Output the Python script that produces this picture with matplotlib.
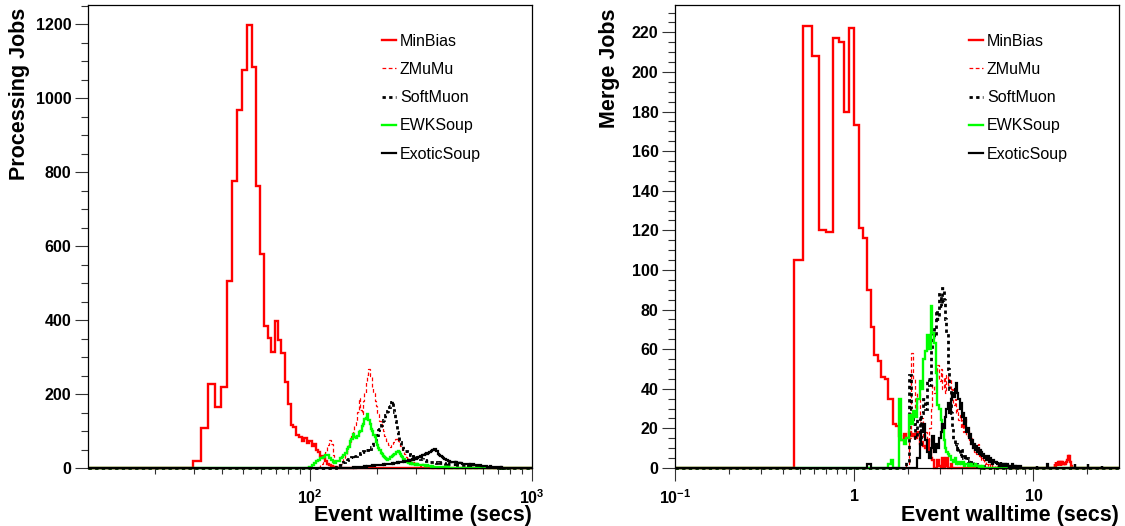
import numpy as np
import matplotlib
matplotlib.use("Agg")
import matplotlib.pyplot as plt
from matplotlib.ticker import FixedLocator, FixedFormatter, MultipleLocator, NullFormatter

plt.rcParams['font.family'] = ['Liberation Sans', 'DejaVu Sans']
plt.rcParams['mathtext.fontset'] = 'custom'
plt.rcParams['mathtext.rm'] = 'Liberation Sans:bold'
plt.rcParams['mathtext.bf'] = 'Liberation Sans:bold'

# histogram binning (ROOT TH1F style)
proc_edges = np.linspace(10, 1000, 401)
merge_edges = np.linspace(0.1, 30, 501)

samples = ['MinBias', 'ZMuMu', 'SoftMuon', 'EWKSoup', 'ExoticSoup']

# ---- processing jobs (first bin index, counts) ----
proc_minbias_start = 8
proc_minbias = [18, 109, 227, 165, 218, 507, 775, 968, 1075, 1198, 1084, 763, 578, 383, 351, 315,
                398, 345, 310, 233, 174, 115, 112, 88, 85, 72, 80, 68, 72, 60, 65, 50, 44, 32, 26,
                18, 12, 8, 5, 3, 2, 1, 1, 0, 1, 0, 0, 1, 0, 1, 0, 0, 1, 0, 1, 1, 0, 1, 0, 0, 1]

proc_zmumu_start = 40
proc_zmumu = [3, 10, 22, 42, 62, 76, 66, 35, 6, 5, 9, 12, 19, 24, 36, 47, 62, 69, 87, 98, 117, 128,
              152, 189, 158, 146, 180, 203, 235, 252, 268, 250, 248, 220, 202, 181, 168, 148, 147,
              128, 123, 108, 100, 86, 84, 73, 70, 62, 61, 56, 62, 63, 69, 70, 78, 79, 82, 73, 70,
              60, 59, 50, 47, 39, 37, 31, 31, 26, 26, 22, 22, 18, 19, 16, 16, 13, 14, 11, 12, 9,
              10, 7, 8, 6, 7, 5, 5, 4, 5, 3, 3, 4, 2, 2, 3, 1, 2, 1, 1, 1]

proc_softmuon_start = 49
proc_softmuon = [4, 9, 8, 14, 15, 20, 21, 25, 24, 29, 28, 33, 32, 37, 38, 41, 40, 45, 44, 49,
                 48, 53, 52, 58, 61, 69, 74, 84, 89, 102, 106, 116, 120, 130, 132, 142, 144, 154,
                 156, 166, 168, 178, 182, 163, 152, 128, 117, 98, 88, 74, 70, 60, 60, 52, 52, 45,
                 45, 41, 41, 38, 38, 35, 36, 33, 34, 31, 32, 29, 30, 27, 28, 26,
                 26, 25, 25, 24, 23, 23, 22, 21, 21, 20, 20, 19, 19, 18, 18, 17, 17, 16, 17, 16,
                 16, 15, 16, 15, 15, 14, 15, 14, 14, 15, 14, 13, 14, 13, 14, 13, 13, 14, 13, 12,
                 13, 13, 12, 13, 12, 11, 12, 11, 12, 11, 10, 11, 10, 11, 10, 10, 9, 10, 9, 10,
                 9, 9, 8, 9, 9, 8, 9, 8, 8, 9, 8, 8, 7, 8, 8, 7, 8, 7, 7, 8, 7, 6, 7, 7, 6, 7,
                 6, 6, 7, 6, 6, 5, 6, 6, 5, 6, 5, 6, 5, 5, 6, 5, 5, 4, 5, 5, 4, 5, 5, 4, 5, 4,
                 4, 5, 4, 4, 5, 4, 4, 3, 4, 4, 3, 4, 4, 3, 4, 3, 3, 4, 3, 3, 4, 3, 3, 3, 2, 3,
                 3, 3, 2, 3, 3, 2, 3, 3, 2, 3, 2, 3, 2, 2, 3, 2, 2, 3, 2, 2, 2, 2, 1, 2, 2, 1,
                 2, 1, 2, 2, 1, 1, 2, 1, 1, 2, 1, 1, 1, 1, 2, 1, 1, 1, 0, 1, 1, 1, 0, 1, 1, 0, 1]

proc_ewksoup_start = 36
proc_ewksoup = [2, 8, 13, 19, 22, 28, 29, 34, 35, 27, 21, 16, 14, 18, 20, 27, 29, 36, 41, 52, 58,
                72, 78, 91, 83, 80, 87, 97, 101, 114, 120, 132, 136, 146, 130, 120, 106, 101, 88,
                83, 70, 63, 54, 49, 41, 39, 33, 31, 26, 25, 21, 25, 25, 29, 29, 33, 34, 39, 39,
                42, 42, 46, 43, 39, 32, 30, 25, 24, 20, 20, 16, 17, 14, 15, 12, 14, 11, 13, 10,
                12, 9, 11, 8, 10, 8, 9, 7, 9, 7, 8, 6, 8, 7, 6, 7, 5, 7, 6, 5, 6, 5, 6, 4, 5, 5,
                4, 4, 5, 3, 4, 4, 3, 3, 4, 2, 3, 3, 2, 3, 2, 2, 2, 1, 2, 2, 1, 2, 1, 1, 2, 1, 1,
                1, 1, 0, 1, 1, 1, 0, 1]

proc_exoticsoup_start = 56
proc_exoticsoup = [1, 0, 1, 2, 1, 2, 3, 2, 3, 4, 3, 5, 4, 5, 6, 5, 6, 7, 6, 8, 7, 7, 8, 9,
                   8, 9, 10, 9, 10, 11, 10, 11, 12, 11, 12, 13, 12, 14, 13, 14,
                   15, 14, 16, 15, 17, 16, 18, 17, 19, 18, 20, 19, 21, 20, 22, 21, 23, 22, 21,
                   24, 26, 25, 28, 27, 30, 29, 31, 33, 31, 34, 33, 36, 35, 38, 37, 40, 39, 42,
                   41, 44, 43, 46, 45, 48, 47, 50, 52, 53, 51, 50, 46, 45, 40, 39, 36, 35,
                   33, 33, 29, 30, 27, 28, 25, 26, 23, 24, 22,
                   21, 22, 19, 21, 18, 20, 17, 19, 16, 18, 16, 17, 15, 16, 14, 16, 14, 15, 14,
                   14, 13, 14, 12, 14, 12, 13, 11, 13, 12, 11, 13, 11, 12, 10, 12, 11, 10, 12, 10,
                   11, 11, 10, 11, 10, 11, 9, 11, 10, 9, 10, 9, 10, 8, 10, 9, 8, 9, 8, 9, 8, 8, 7,
                   9, 8, 7, 8, 7, 8, 7, 7, 6, 7, 6, 7, 6, 7, 5, 6, 6, 5, 6, 5, 6, 5, 6, 5, 5, 4,
                   6, 5, 4, 5, 4, 5, 4, 5, 4, 4, 4, 3, 4, 4, 3, 4, 3, 4, 3, 3, 4, 3, 3, 2, 3, 3,
                   2, 3, 3, 2, 3, 2, 2, 3, 2, 2, 2, 1, 2, 2, 1, 2, 1, 2, 1, 1, 2, 1, 1, 1]

# ---- merge jobs (first bin index, counts) ----
merge_minbias_start = 6
merge_minbias = [105, 223, 208, 120, 119, 217, 215, 180, 222, 173, 121, 116, 90, 71, 57, 54, 46,
                 45, 35, 35, 22, 21, 16, 14, 17, 15, 18, 16, 17, 15, 18, 12, 13, 11, 10, 14, 9,
                 5, 4, 0, 0, 4, 1, 0, 5, 0, 1, 5, 0, 0, 2]
merge_minbias_tail_start = 219
merge_minbias_tail = [2, 1, 3, 2, 2, 3, 2, 1, 2, 3, 2, 2, 3, 2, 3, 2, 1, 2, 2, 3, 2, 2, 3, 3, 2,
                      2, 3, 2, 2, 3, 3, 2, 3, 3, 3, 4, 3, 4, 4, 5, 5, 6, 6, 5, 6, 5, 4, 4, 3, 2,
                      2, 1, 1, 1]

merge_zmumu_start = 31
merge_zmumu = [2, 15, 58, 45, 30, 38, 22, 25, 15, 18, 12, 20, 30, 42, 38, 45, 52, 44, 50, 40, 46,
               38, 47, 42, 45, 36, 40, 32, 35, 28, 30, 24, 27, 20, 24, 18, 22, 25, 16, 20, 14, 12,
               15, 10, 12, 8, 10, 7, 8, 12, 6, 5, 7, 4, 5, 3, 4, 2, 3, 2, 2, 1, 2, 1, 1, 2, 1, 1,
               0, 1, 1, 0, 1]

merge_softmuon_start = 31
merge_softmuon = [3, 47, 30, 22, 15, 25, 12, 28, 35, 30, 45, 42, 60, 70, 66, 80, 75, 88, 82, 91,
                  85, 75, 68, 50, 40, 28, 20, 14, 11, 12, 8, 10, 6, 9, 7, 5, 6, 4, 5, 3, 4, 3, 2,
                  3, 2, 2, 1, 2, 1, 1, 1, 0, 1, 1, 0, 1]

merge_ewksoup_start = 24
merge_ewksoup = [2, 4, 0, 0, 35, 14, 12, 15, 27, 22, 29, 26, 35, 44, 40, 55, 59, 67, 60, 82, 68,
                 63, 48, 32, 30, 24, 20, 14, 10, 8, 7, 6, 4, 4, 3, 5, 2, 3, 2, 3, 2, 2, 3, 1, 2,
                 2, 1, 2, 1, 2, 1, 1, 1, 2, 1, 1, 1, 0, 1, 1, 0, 1]

merge_exoticsoup_start = 18
merge_exoticsoup = [2, 0, 0, 0, 0, 0, 0, 0, 0, 0, 0, 0, 0, 0, 0, 0, 0, 0,
                    5, 12, 18, 22, 14, 8, 5, 10, 16, 8, 12, 10, 15, 18, 22, 20, 26, 30, 33, 28,
                    35, 38, 36, 40, 43, 38, 35, 30, 33, 26, 28, 22, 25, 18, 20, 15, 17, 12, 14,
                    10, 12, 9, 11, 8, 10, 7, 9, 6, 8, 6, 7, 5, 6, 4, 5, 4, 6, 3, 5, 3, 4, 2, 4, 3,
                    3, 2, 3, 2, 3, 2, 1, 2, 3, 1, 2, 2, 1, 2, 1, 2, 1, 1, 2, 1, 1, 0, 1, 1, 0, 1,
                    2, 0, 1, 1, 0, 1, 0, 1, 1, 0, 0, 1, 0, 1]
merge_exotic_blip_times = [10.5, 12.0, 17.0, 20.2, 24.0]
merge_exotic_blip_counts = [1, 2, 2, 2, 1]


def filled(edges, parts):
    h = np.zeros(len(edges) - 1)
    for start, counts in parts:
        h[start:start + len(counts)] += np.asarray(counts, dtype=float)
    return h


proc_hists = [
    filled(proc_edges, [(proc_minbias_start, proc_minbias)]),
    filled(proc_edges, [(proc_zmumu_start, proc_zmumu)]),
    filled(proc_edges, [(proc_softmuon_start, proc_softmuon)]),
    filled(proc_edges, [(proc_ewksoup_start, proc_ewksoup)]),
    filled(proc_edges, [(proc_exoticsoup_start, proc_exoticsoup)]),
]
exotic_merge = filled(merge_edges, [(merge_exoticsoup_start, merge_exoticsoup)])
for t, c in zip(merge_exotic_blip_times, merge_exotic_blip_counts):
    exotic_merge[np.searchsorted(merge_edges, t) - 1] += c
merge_hists = [
    filled(merge_edges, [(merge_minbias_start, merge_minbias),
                         (merge_minbias_tail_start, merge_minbias_tail)]),
    filled(merge_edges, [(merge_zmumu_start, merge_zmumu)]),
    filled(merge_edges, [(merge_softmuon_start, merge_softmuon)]),
    filled(merge_edges, [(merge_ewksoup_start, merge_ewksoup)]),
    exotic_merge,
]

styles = [
    dict(color='#ff0000', lw=1.7, ls='-'),
    dict(color='#ff0000', lw=0.9, ls=(0, (3, 2))),
    dict(color='black', lw=2.0, ls=(0, (1.2, 1.2))),
    dict(color='#00ff00', lw=1.7, ls='-'),
    dict(color='black', lw=1.6, ls='-'),
]

fig = plt.figure(figsize=(11.25, 5.26), dpi=100)
ax1 = fig.add_axes([88 / 1125, 1 - 468 / 526, 444 / 1125, 463 / 526])
ax2 = fig.add_axes([675 / 1125, 1 - 468 / 526, 444 / 1125, 463 / 526])


def style_axes(ax):
    ax.set_xscale('log')
    for s in ax.spines.values():
        s.set_color('black')
        s.set_linewidth(0.9)
    ax.tick_params(which='both', direction='out', color='#333333', labelsize=11.5,
                   top=False, right=False)
    ax.tick_params(axis='y', which='major', length=9.4, width=0.8, pad=2.5)
    ax.tick_params(axis='y', which='minor', length=5, width=0.8)
    ax.tick_params(axis='x', which='major', length=9.4, width=0.8, pad=5.5)
    ax.tick_params(axis='x', which='minor', length=4.3, width=0.8)


for ax, edges, hists in [(ax1, proc_edges, proc_hists), (ax2, merge_edges, merge_hists)]:
    for h, name, st in zip(hists, samples, styles):
        ax.stairs(h, edges, label=name, clip_on=False, **st)
    style_axes(ax)

ax1.set_xlim(10, 1000)
ax1.set_ylim(0, 1252)
ax1.xaxis.set_major_locator(FixedLocator([100, 1000]))
ax1.xaxis.set_major_formatter(FixedFormatter([r'$10^{2}$', r'$10^{3}$']))
ax1.xaxis.set_minor_locator(FixedLocator([20, 30, 40, 50, 60, 70, 80, 90,
                                          200, 300, 400, 500, 600, 700, 800, 900]))
ax1.xaxis.set_minor_formatter(NullFormatter())
ax1.yaxis.set_major_locator(MultipleLocator(200))
ax1.yaxis.set_minor_locator(MultipleLocator(50))

ax2.set_xlim(0.1, 30)
ax2.set_ylim(0, 233.8)
ax2.xaxis.set_major_locator(FixedLocator([0.1, 1, 10]))
ax2.xaxis.set_major_formatter(FixedFormatter([r'$10^{-1}$', '1', '10']))
ax2.xaxis.set_minor_locator(FixedLocator([0.2, 0.3, 0.4, 0.5, 0.6, 0.7, 0.8, 0.9,
                                          2, 3, 4, 5, 6, 7, 8, 9, 20]))
ax2.xaxis.set_minor_formatter(NullFormatter())
ax2.yaxis.set_major_locator(MultipleLocator(20))
ax2.yaxis.set_minor_locator(MultipleLocator(5))

for ax in (ax1, ax2):
    for lab in ax.get_yticklabels() + ax.get_xticklabels():
        lab.set_fontweight('bold')
    ax.text(1.0, -0.103, 'Event walltime (secs)', transform=ax.transAxes,
            ha='right', va='center', fontsize=15.5, fontweight='bold')
    ax.legend(loc='upper left', bbox_to_anchor=(0.662, 0.938), frameon=False,
              fontsize=11.5, handlelength=0.875, handletextpad=0.25,
              labelspacing=0.83, borderpad=0, borderaxespad=0)

fig.text(19.5 / 1125, 1 - 8 / 526, 'Processing Jobs', rotation=90, ha='center', va='top',
         fontsize=15.5, fontweight='bold')
fig.text(609 / 1125, 1 - 8 / 526, 'Merge Jobs', rotation=90, ha='center', va='top',
         fontsize=15.5, fontweight='bold')

fig.savefig('out.png', dpi=100)
